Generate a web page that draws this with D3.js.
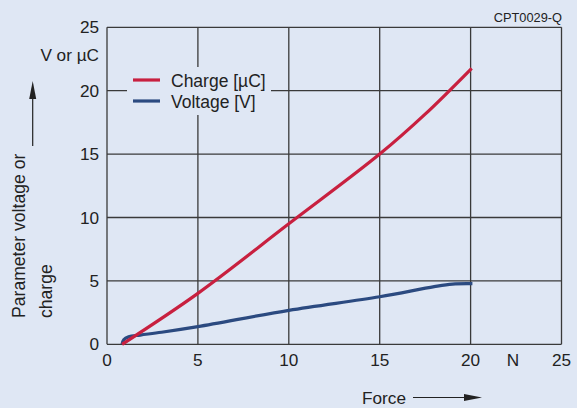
<!DOCTYPE html>
<html>
<head>
<meta charset="utf-8">
<script src="https://cdn.jsdelivr.net/npm/d3@7"></script>
<style>
  body { margin: 0; background: #dfe7f4; }
  svg { display: block; font-family: "Liberation Sans", Arial, sans-serif; }
</style>
</head>
<body>
<svg width="577" height="408"></svg>
<script>
// Data
const xTicks = [0, 5, 10, 15, 20, 25]
const yTicks = [0, 5, 10, 15, 20, 25]

// Charge [µC] against force [N]
const chargeForce = [0.83, 5, 10, 15, 17.5, 20.06]
const chargeValue = [0, 4.02, 9.5, 15.0, 18.15, 21.77]

// Voltage [V] against force [N]
const voltageForce = [0.83, 0.92, 1.19, 1.83, 3, 5, 10, 15, 18, 19, 20.1]
const voltageValue = [0, 0.35, 0.6, 0.73, 0.95, 1.39, 2.68, 3.75, 4.55, 4.75, 4.78]

const series = [
  { name: 'Charge [µC]', color: '#c8203f', xs: chargeForce, ys: chargeValue },
  { name: 'Voltage [V]', color: '#2b4a80', xs: voltageForce, ys: voltageValue }
]

const svg = d3.select('svg')
const bg = '#dfe7f4'
const gridColor = '#3a3a3a'
const fontSize = 17.2

const plot = { left: 107, right: 561.5, top: 27.3, bottom: 344.3 }

const x = d3.scaleLinear().domain([0, 25]).range([plot.left, plot.right])
const y = d3.scaleLinear().domain([0, 25]).range([plot.bottom, plot.top])

svg.append('rect').attr('width', 577).attr('height', 408).attr('fill', bg)

// grid
svg.append('g')
  .selectAll('line')
  .data(xTicks)
  .enter()
  .append('line')
    .attr('x1', d => x(d)).attr('x2', d => x(d))
    .attr('y1', plot.top).attr('y2', plot.bottom)
    .attr('stroke', gridColor).attr('stroke-width', 1.3)

svg.append('g')
  .selectAll('line')
  .data(yTicks)
  .enter()
  .append('line')
    .attr('x1', plot.left).attr('x2', plot.right)
    .attr('y1', d => y(d)).attr('y2', d => y(d))
    .attr('stroke', gridColor).attr('stroke-width', 1.3)

// tick labels
svg.append('g')
  .selectAll('text')
  .data(xTicks)
  .enter()
  .append('text')
    .attr('x', d => x(d))
    .attr('y', 366)
    .attr('text-anchor', 'middle')
    .attr('font-size', fontSize)
    .attr('fill', '#222')
    .text(d => d)

svg.append('g')
  .selectAll('text')
  .data(yTicks)
  .enter()
  .append('text')
    .attr('x', 99)
    .attr('y', d => y(d))
    .attr('dy', '0.36em')
    .attr('text-anchor', 'end')
    .attr('font-size', fontSize)
    .attr('fill', '#222')
    .text(d => d)

// curves
const line = d3.line()
  .x(d => x(d[0]))
  .y(d => y(d[1]))
  .curve(d3.curveCatmullRom.alpha(0.5))

svg.append('g')
  .selectAll('path')
  .data(series.slice().reverse())
  .enter()
  .append('path')
    .attr('d', s => line(s.xs.map((v, i) => [v, s.ys[i]])))
    .attr('fill', 'none')
    .attr('stroke', s => s.color)
    .attr('stroke-width', 3.2)

// legend, its box hides the grid behind it
const legend = svg.append('g')
legend.append('rect')
  .attr('x', 127).attr('y', 67).attr('width', 144).attr('height', 48)
  .attr('fill', bg)

legend.selectAll('line')
  .data(series)
  .enter()
  .append('line')
    .attr('x1', 133).attr('x2', 160)
    .attr('y1', (d, i) => 80 + i * 21).attr('y2', (d, i) => 80 + i * 21)
    .attr('stroke', d => d.color)
    .attr('stroke-width', 3.2)

legend.selectAll('text')
  .data(series)
  .enter()
  .append('text')
    .attr('x', 171)
    .attr('y', (d, i) => 86.5 + i * 21)
    .attr('font-size', 17.5)
    .attr('fill', '#222')
    .text(d => d.name)

// labels
svg.append('text')
  .attr('x', 562).attr('y', 22)
  .attr('text-anchor', 'end')
  .attr('font-size', 12.8)
  .attr('fill', '#222')
  .text('CPT0029-Q')

svg.append('text')
  .attr('x', 99).attr('y', 61)
  .attr('text-anchor', 'end')
  .attr('font-size', fontSize)
  .attr('fill', '#222')
  .text('V or µC')

svg.append('text')
  .attr('x', 513).attr('y', 366)
  .attr('text-anchor', 'middle')
  .attr('font-size', fontSize)
  .attr('fill', '#222')
  .text('N')

svg.append('text')
  .attr('transform', 'translate(25,318) rotate(-90)')
  .attr('font-size', 17.6)
  .attr('fill', '#222')
  .text('Parameter voltage or')

svg.append('text')
  .attr('transform', 'translate(52,318) rotate(-90)')
  .attr('font-size', 17.6)
  .attr('fill', '#222')
  .text('charge')

svg.append('text')
  .attr('x', 362).attr('y', 404)
  .attr('font-size', fontSize)
  .attr('fill', '#222')
  .text('Force')

// arrows
svg.append('line')
  .attr('x1', 413).attr('x2', 468).attr('y1', 397.5).attr('y2', 397.5)
  .attr('stroke', '#222').attr('stroke-width', 1.2)
svg.append('path')
  .attr('d', 'M464,394 L482,397.5 L464,401 Z')
  .attr('fill', '#222')

svg.append('line')
  .attr('x1', 32.7).attr('x2', 32.7).attr('y1', 146).attr('y2', 95)
  .attr('stroke', '#222').attr('stroke-width', 1.2)
svg.append('path')
  .attr('d', 'M29.2,99 L32.7,81 L36.2,99 Z')
  .attr('fill', '#222')
</script>
</body>
</html>
